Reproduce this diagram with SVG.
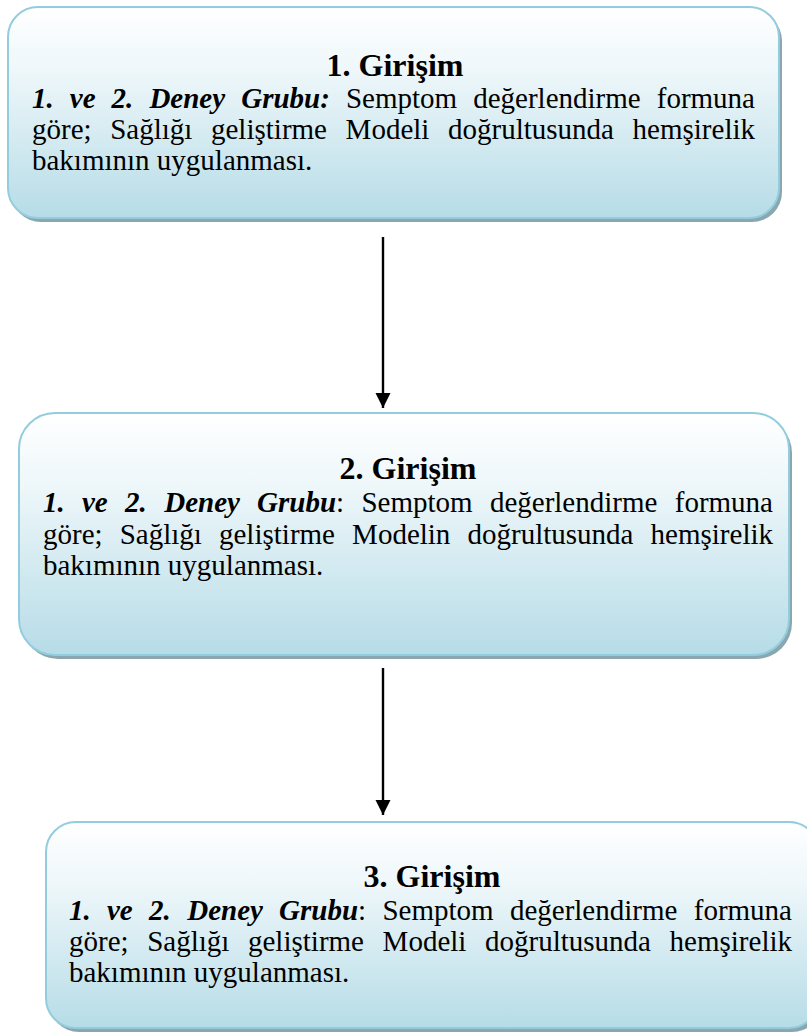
<svg xmlns="http://www.w3.org/2000/svg" width="807" height="1034" viewBox="0 0 807 1034">
  <defs>
    <linearGradient id="fillGrad" x1="0" y1="0" x2="0" y2="1">
      <stop offset="0" stop-color="#ffffff"/>
      <stop offset="0.3" stop-color="#eef7fa"/>
      <stop offset="1" stop-color="#b6dce7"/>
    </linearGradient>
    <marker id="arrow" markerUnits="userSpaceOnUse" markerWidth="16" markerHeight="16" refX="15" refY="7.5" orient="auto">
      <polygon points="0,0 15,7.5 0,15" fill="#000"/>
    </marker>
  </defs>
  <style>
    .shadow { fill: #8aa6ae; }
    .box { fill: url(#fillGrad); stroke: #93cddd; stroke-width: 2; }
    .title { font-family: "Liberation Serif", "Times New Roman", serif; font-size: 32px; font-weight: bold; fill: #000; text-anchor: middle; }
    .body { font-family: "Liberation Serif", "Times New Roman", serif; font-size: 29px; fill: #000; }
    .bi { font-weight: bold; font-style: italic; }
    .end { text-anchor: end; }
    .conn { stroke: #000; stroke-width: 2.4; fill: none; }
  </style>

  <g id="connectors">
    <line class="conn" x1="383" y1="237" x2="383" y2="408" marker-end="url(#arrow)"/>
    <line class="conn" x1="383" y1="668" x2="383" y2="815" marker-end="url(#arrow)"/>
  </g>

  <g id="node1">
    <rect class="shadow" x="11" y="11" width="771" height="211" rx="30" ry="30"/>
    <rect class="box" x="8" y="7" width="771" height="211" rx="30" ry="30"/>
    <text class="title" x="395" y="76">1. Girişim</text>
    <text class="body" y="108"><tspan class="bi" x="32">1.</tspan><tspan class="bi" x="69.8">ve</tspan><tspan class="bi" x="111.6">2.</tspan><tspan class="bi" x="149.4">Deney</tspan><tspan class="bi" x="241.2">Grubu:</tspan><tspan x="345.9">Semptom</tspan><tspan x="473.2">değerlendirme</tspan></text>
    <text class="body end" x="755" y="108">formuna</text>
    <text class="body" y="139"><tspan x="32">göre;</tspan><tspan x="110.2">Sağlığı</tspan><tspan x="211">geliştirme</tspan><tspan x="345.6">Modeli</tspan><tspan x="448">doğrultusunda</tspan></text>
    <text class="body end" x="755" y="139">hemşirelik</text>
    <text class="body" x="32" y="170">bakımının uygulanması.</text>
  </g>

  <g id="node2">
    <rect class="shadow" x="22" y="417" width="770" height="242" rx="36" ry="36"/>
    <rect class="box" x="19" y="413" width="770" height="242" rx="36" ry="36"/>
    <text class="title" x="408" y="479">2. Girişim</text>
    <text class="body" y="512"><tspan class="bi" x="43">1.</tspan><tspan class="bi" x="82">ve</tspan><tspan class="bi" x="125.1">2.</tspan><tspan class="bi" x="164.2">Deney</tspan><tspan class="bi" x="257.1">Grubu</tspan><tspan>:</tspan><tspan x="361.4">Semptom</tspan><tspan x="489.9">değerlendirme</tspan></text>
    <text class="body end" x="773" y="512">formuna</text>
    <text class="body" y="544"><tspan x="43">göre;</tspan><tspan x="119.7">Sağlığı</tspan><tspan x="219">geliştirme</tspan><tspan x="352.1">Modelin</tspan><tspan x="467.5">doğrultusunda</tspan></text>
    <text class="body end" x="773" y="544">hemşirelik</text>
    <text class="body" x="43" y="575">bakımının uygulanması.</text>
  </g>

  <g id="node3">
    <rect class="shadow" x="49" y="826" width="773" height="206" rx="30" ry="30"/>
    <rect class="box" x="46" y="822" width="773" height="206" rx="30" ry="30"/>
    <text class="title" x="432" y="887">3. Girişim</text>
    <text class="body" y="920"><tspan class="bi" x="69">1.</tspan><tspan class="bi" x="107">ve</tspan><tspan class="bi" x="149.1">2.</tspan><tspan class="bi" x="187.2">Deney</tspan><tspan class="bi" x="279.1">Grubu</tspan><tspan>:</tspan><tspan x="382.4">Semptom</tspan><tspan x="509.9">değerlendirme</tspan></text>
    <text class="body end" x="792" y="920">formuna</text>
    <text class="body" y="951"><tspan x="69">göre;</tspan><tspan x="147.2">Sağlığı</tspan><tspan x="248">geliştirme</tspan><tspan x="382.6">Modeli</tspan><tspan x="485">doğrultusunda</tspan></text>
    <text class="body end" x="792" y="951">hemşirelik</text>
    <text class="body" x="69" y="982">bakımının uygulanması.</text>
  </g>
</svg>
